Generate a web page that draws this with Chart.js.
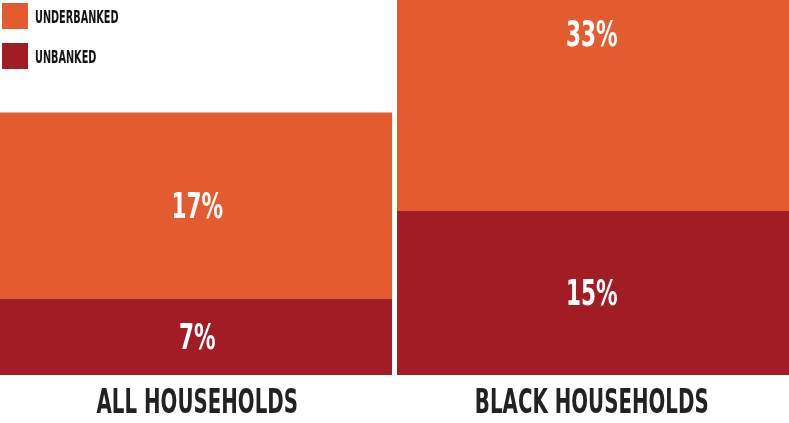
<!DOCTYPE html>
<html>
<head>
<meta charset="utf-8">
<script src="https://cdn.jsdelivr.net/npm/chart.js@4.4.1/dist/chart.umd.min.js"></script>
<style>
  html, body { margin: 0; padding: 0; background: #fff; }
  .wrap { position: relative; width: 789px; height: 423px; }
  .legend { position: absolute; left: 2px; top: 3px; font-family: "DejaVu Sans", sans-serif; font-weight: bold; font-size: 18px; color: #111; }
  .legend div { display: flex; align-items: center; height: 26px; margin-bottom: 14px; }
  .legend span { display: inline-block; width: 26px; height: 26px; margin-right: 7px; flex: none; }
  .legend em { font-style: normal; display: inline-block; transform: scaleX(0.54); transform-origin: left center; white-space: nowrap; }
</style>
</head>
<body>
<div class="wrap">
  <canvas id="chart" width="789" height="423"></canvas>
  <div class="legend">
    <div><span style="background:#E35B2E"></span><em>UNDERBANKED</em></div>
    <div><span style="background:#A11C24"></span><em>UNBANKED</em></div>
  </div>
</div>
<script>
const categories = ['ALL HOUSEHOLDS', 'BLACK HOUSEHOLDS'];
const unbanked = [7, 15];
const underbanked = [17, 33];
const yMax = 34.3;

const FONT = '"DejaVu Sans", sans-serif';
const SQUEEZE = 0.6;

// text drawn horizontally condensed, to imitate the poster typeface
function squeezedText(ctx, text, x, y) {
  ctx.save();
  ctx.translate(x, y);
  ctx.scale(SQUEEZE, 1);
  ctx.fillText(text, 0, 0);
  ctx.restore();
}

const barLabels = {
  id: 'barLabels',
  afterDraw(chart) {
    const { ctx, chartArea } = chart;
    const xScale = chart.scales.x;
    ctx.save();
    ctx.textAlign = 'center';
    ctx.textBaseline = 'middle';

    // values in the middle of each visible segment
    ctx.fillStyle = '#fff';
    ctx.font = 'bold 36px ' + FONT;
    chart.data.datasets.forEach((ds, i) => {
      chart.getDatasetMeta(i).data.forEach((bar, j) => {
        let y;
        if (bar.y < chartArea.top) y = chartArea.top + 37;
        else y = (bar.y + bar.base) / 2 + 3;
        squeezedText(ctx, ds.data[j] + '%', bar.x, y);
      });
    });

    // category names under the bars
    ctx.fillStyle = '#222';
    ctx.font = 'bold 33px ' + FONT;
    categories.forEach((c, i) => {
      squeezedText(ctx, c, xScale.getPixelForValue(i), chartArea.bottom + 29);
    });
    ctx.restore();
  }
};

new Chart(document.getElementById('chart'), {
  type: 'bar',
  data: {
    labels: categories,
    datasets: [
      { label: 'Unbanked', data: unbanked, backgroundColor: '#A11C24' },
      { label: 'Underbanked', data: underbanked, backgroundColor: '#E35B2E' }
    ]
  },
  options: {
    responsive: false,
    animation: false,
    layout: { padding: { bottom: 48 } },
    categoryPercentage: 1,
    barPercentage: 1,
    datasets: {
      bar: {
        borderColor: 'rgba(0,0,0,0)',
        borderSkipped: false,
        inflateAmount: 0.5,
        borderWidth: c => c.dataIndex === 0 ? { left: 0, right: 3, top: 0, bottom: 0 } : { left: 3, right: 0, top: 0, bottom: 0 }
      }
    },
    plugins: { legend: { display: false }, tooltip: { enabled: false } },
    scales: {
      x: { stacked: true, display: false },
      y: { stacked: true, display: false, min: 0, max: yMax }
    }
  },
  plugins: [barLabels]
});
</script>
</body>
</html>
